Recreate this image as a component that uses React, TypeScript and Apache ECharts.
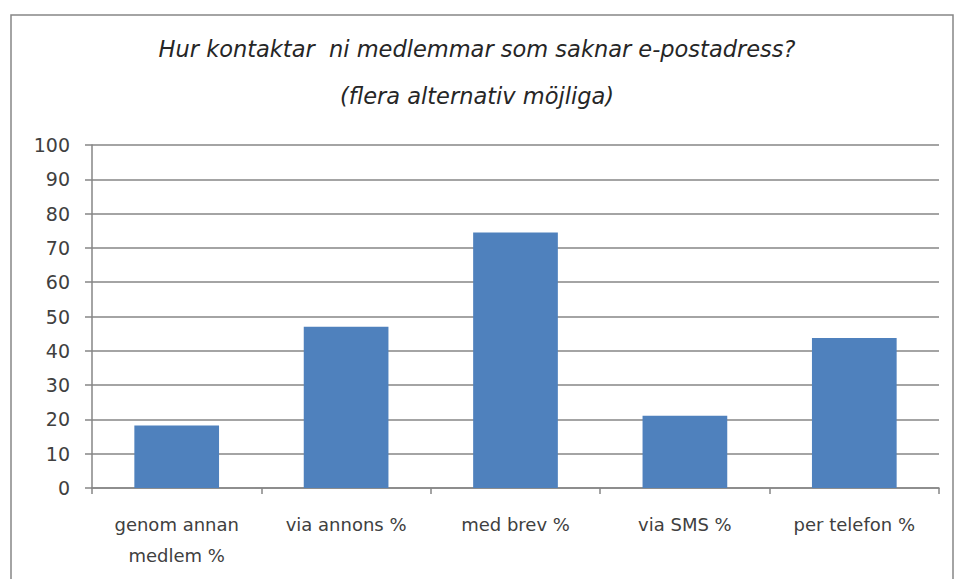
import React, { useEffect, useRef } from "react";
import * as echarts from "echarts";

const titleLines = ["Hur kontaktar  ni medlemmar som saknar e-postadress?", "(flera alternativ möjliga)"];
const categories = ["genom annan\nmedlem %", "via annons %", "med brev %", "via SMS %", "per telefon %"];
const values = [18.2, 47.0, 74.5, 21.1, 43.7];
const yMin = 0;
const yMax = 100;
const yInterval = 10;

export default function App() {
  const ref = useRef<HTMLDivElement>(null);
  useEffect(() => {
    document.body.style.margin = "0";
    const chart = echarts.init(ref.current!, undefined, { renderer: "svg" });
    chart.setOption({
      animation: false,
      backgroundColor: "#ffffff",
      title: {
        text: titleLines.join("\n"),
        left: "center",
        top: 20,
        textStyle: {
          fontFamily: "DejaVu Sans",
          fontStyle: "italic",
          fontWeight: "normal",
          fontSize: 22.5,
          lineHeight: 47,
          color: "#262626",
        },
      },
      graphic: [
        {
          type: "rect",
          shape: { x: 11, y: 15, width: 942, height: 600 },
          style: { fill: "none", stroke: "#868686", lineWidth: 1.5 },
          silent: true,
        },
      ],
      grid: { left: 92, top: 145, right: 15, bottom: 91 },
      xAxis: {
        type: "category",
        data: categories,
        axisLine: { show: true, lineStyle: { color: "#868686", width: 1.5 } },
        axisTick: { show: true, length: 6, alignWithLabel: false, lineStyle: { color: "#868686", width: 1.5 } },
        axisLabel: {
          interval: 0,
          margin: 21,
          fontFamily: "DejaVu Sans",
          fontSize: 18,
          lineHeight: 31,
          color: "#404040",
        },
      },
      yAxis: {
        type: "value",
        min: yMin,
        max: yMax,
        interval: yInterval,
        axisLine: { show: true, lineStyle: { color: "#868686", width: 1.5 } },
        axisTick: { show: true, length: 7, lineStyle: { color: "#868686", width: 1.5 } },
        splitLine: { show: true, lineStyle: { color: "#868686", width: 1.5 } },
        axisLabel: {
          margin: 22,
          fontFamily: "DejaVu Sans",
          fontSize: 19,
          color: "#404040",
        },
      },
      series: [
        {
          type: "bar",
          data: values,
          barWidth: "50%",
          itemStyle: { color: "#4F81BD" },
        },
      ],
    });
    return () => chart.dispose();
  }, []);
  return <div ref={ref} style={{ position: "fixed", left: 0, top: 0, width: 954, height: 579 }} />;
}
